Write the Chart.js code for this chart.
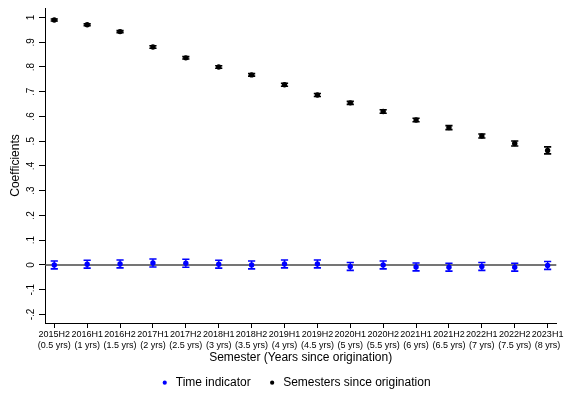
<!DOCTYPE html>
<html>
<head>
<meta charset="utf-8">
<title>Coefficients by semester</title>
<script src="https://cdn.jsdelivr.net/npm/chart.js@4.4.1/dist/chart.umd.min.js"></script>
<style>
  html, body { margin: 0; padding: 0; background: #fff; }
  #c { display: block; }
</style>
</head>
<body>
<canvas id="c" width="565" height="394"></canvas>
<script>
// Semesters on the x axis and the years since origination shown under each one
const semesters = ['2015H2','2016H1','2016H2','2017H1','2017H2','2018H1','2018H2','2019H1',
                   '2019H2','2020H1','2020H2','2021H1','2021H2','2022H1','2022H2','2023H1'];
const yearsLabels = ['(0.5 yrs)','(1 yrs)','(1.5 yrs)','(2 yrs)','(2.5 yrs)','(3 yrs)','(3.5 yrs)','(4 yrs)',
                     '(4.5 yrs)','(5 yrs)','(5.5 yrs)','(6 yrs)','(6.5 yrs)','(7 yrs)','(7.5 yrs)','(8 yrs)'];

// Time indicator estimates and half-widths of their confidence intervals
const timeCoef = [0.000, 0.003, 0.004, 0.008, 0.007, 0.003, 0.000, 0.004,
                  0.004, -0.006, 0.000, -0.008, -0.009, -0.006, -0.009, -0.002];
const timeHalf = [0.016, 0.016, 0.016, 0.016, 0.016, 0.016, 0.016, 0.016,
                  0.016, 0.016, 0.016, 0.016, 0.016, 0.016, 0.016, 0.016];

// Semesters-since-origination estimates and half-widths of their confidence intervals
const semCoef = [0.990, 0.971, 0.943, 0.881, 0.837, 0.800, 0.768, 0.728,
                 0.687, 0.655, 0.620, 0.586, 0.555, 0.521, 0.491, 0.463];
const semHalf = [0.004, 0.004, 0.004, 0.005, 0.005, 0.005, 0.005, 0.006,
                 0.006, 0.006, 0.007, 0.007, 0.008, 0.008, 0.010, 0.014];

// Y axis tick values and their labels
const yTicks = [-0.2, -0.1, 0, 0.1, 0.2, 0.3, 0.4, 0.5, 0.6, 0.7, 0.8, 0.9, 1];
const yTickLabels = ['-.2', '-.1', '0', '.1', '.2', '.3', '.4', '.5', '.6', '.7', '.8', '.9', '1'];

const FONT = "'Liberation Sans', Arial, Helvetica, sans-serif";
const BLUE = '#0000ff';
const BLACK = '#000000';

const toPoints = arr => arr.map((v, i) => ({ x: i, y: v }));

// Zero line, confidence-interval whiskers, rotated y labels, y title and legend
const decor = {
  id: 'decor',
  beforeDatasetsDraw(chart) {
    const { ctx, chartArea, scales: { x, y } } = chart;
    ctx.save();
    const y0 = y.getPixelForValue(0);
    ctx.strokeStyle = '#474747';
    ctx.lineWidth = 1.6;
    ctx.beginPath();
    ctx.moveTo(chartArea.left, y0);
    ctx.lineTo(chartArea.right, y0);
    ctx.stroke();

    const whiskers = (coef, half, color) => {
      ctx.strokeStyle = color;
      coef.forEach((c, i) => {
        const px = x.getPixelForValue(i);
        const lo = y.getPixelForValue(c - half[i]);
        const hi = y.getPixelForValue(c + half[i]);
        ctx.lineWidth = 1.3;
        ctx.beginPath();
        ctx.moveTo(px, lo); ctx.lineTo(px, hi);
        ctx.stroke();
        ctx.lineWidth = 1.6;
        ctx.beginPath();
        ctx.moveTo(px - 3.6, lo); ctx.lineTo(px + 3.6, lo);
        ctx.moveTo(px - 3.6, hi); ctx.lineTo(px + 3.6, hi);
        ctx.stroke();
      });
    };
    whiskers(semCoef, semHalf, BLACK);
    whiskers(timeCoef, timeHalf, BLUE);
    ctx.restore();
  },
  afterDraw(chart) {
    const { ctx, chartArea, scales: { y } } = chart;
    ctx.save();
    ctx.fillStyle = '#000';
    ctx.textAlign = 'center';
    ctx.textBaseline = 'middle';

    // rotated y tick labels
    ctx.font = `10px ${FONT}`;
    yTicks.forEach((v, i) => {
      ctx.save();
      ctx.translate(31, y.getPixelForValue(v));
      ctx.rotate(-Math.PI / 2);
      ctx.fillText(yTickLabels[i], 0, 0);
      ctx.restore();
    });

    // y axis title
    ctx.font = `12px ${FONT}`;
    ctx.save();
    ctx.translate(16, (chartArea.top + chartArea.bottom) / 2);
    ctx.rotate(-Math.PI / 2);
    ctx.fillText('Coefficients', 0, 0);
    ctx.restore();

    // legend
    const items = chart.data.datasets.map(d => ({ label: d.label, color: d.backgroundColor }));
    ctx.font = `12px ${FONT}`;
    ctx.textAlign = 'left';
    const dotGap = 11, itemGap = 21.5;
    const widths = items.map(it => ctx.measureText(it.label).width);
    const total = widths.reduce((a, w) => a + dotGap + w, 0) + itemGap * (items.length - 1);
    let lx = (chartArea.left + chartArea.right) / 2 - 3 - total / 2;
    const ly = 382.7;
    items.forEach((it, i) => {
      ctx.fillStyle = it.color;
      ctx.beginPath();
      ctx.arc(lx, ly, 2.1, 0, Math.PI * 2);
      ctx.fill();
      ctx.fillStyle = '#000';
      ctx.fillText(it.label, lx + dotGap, ly);
      lx += dotGap + widths[i] + itemGap;
    });
    ctx.restore();
  }
};

new Chart(document.getElementById('c'), {
  type: 'scatter',
  data: {
    datasets: [
      {
        label: 'Time indicator',
        data: toPoints(timeCoef),
        backgroundColor: BLUE,
        borderColor: BLUE,
        borderWidth: 0,
        pointRadius: 2.7,
        pointHoverRadius: 2.7
      },
      {
        label: 'Semesters since origination',
        data: toPoints(semCoef),
        backgroundColor: BLACK,
        borderColor: BLACK,
        borderWidth: 0,
        pointRadius: 2.7,
        pointHoverRadius: 2.7
      }
    ]
  },
  options: {
    responsive: false,
    animation: false,
    devicePixelRatio: 1,
    layout: { padding: { top: 8, right: 7, bottom: 29, left: 0 } },
    plugins: {
      legend: { display: false },
      tooltip: { enabled: false }
    },
    scales: {
      x: {
        type: 'linear',
        min: -0.282,
        max: 15.264,
        afterBuildTicks: s => { s.ticks = semesters.map((_, i) => ({ value: i })); },
        afterFit: s => { s.height = 42; },
        ticks: {
          autoSkip: false,
          minRotation: 0,
          maxRotation: 0,
          padding: 1.5,
          color: '#000',
          font: { family: FONT, size: 9, lineHeight: 1.15 },
          callback: (v, i) => [semesters[i], yearsLabels[i]]
        },
        grid: { display: true, drawOnChartArea: false, drawTicks: true, tickLength: 5, color: '#000', lineWidth: 1 },
        border: { display: true, color: '#000', width: 1 },
        title: {
          display: true,
          text: 'Semester (Years since origination)',
          color: '#000',
          font: { family: FONT, size: 12 },
          padding: { top: 0, bottom: 0 }
        }
      },
      y: {
        min: -0.2346,
        max: 1.0384,
        afterBuildTicks: s => { s.ticks = yTicks.map(v => ({ value: v })); },
        afterFit: s => { s.width = 45; },
        ticks: { display: false },
        grid: { display: true, drawOnChartArea: false, drawTicks: true, tickLength: 6, color: '#000', lineWidth: 1 },
        border: { display: true, color: '#000', width: 1 }
      }
    }
  },
  plugins: [decor]
});
</script>
</body>
</html>
